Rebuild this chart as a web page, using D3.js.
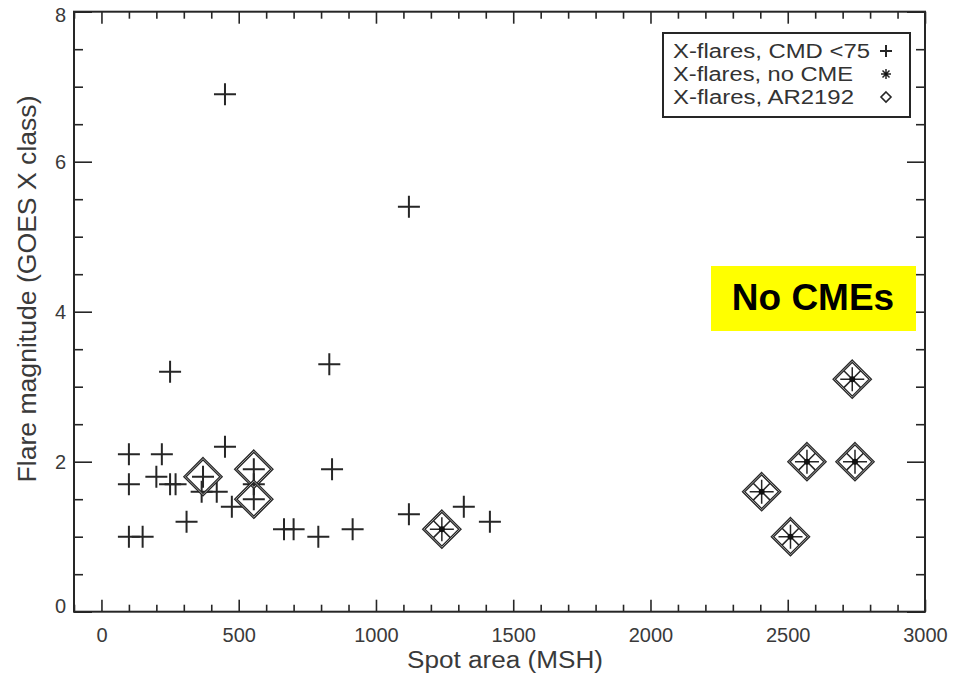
<!DOCTYPE html>
<html>
<head>
<meta charset="utf-8">
<script src="https://cdn.jsdelivr.net/npm/d3@7"></script>
<style>
  body { margin: 0; background: #fff; }
  text { font-family: "Liberation Sans", Arial, Helvetica, sans-serif; }
</style>
</head>
<body>
<script>
(function (d3) {
    'use strict';

    // X-flares with CMD < 75 (plus)
    var cmdX = [450, 1120, 250, 830, 840, 450, 100, 220, 100, 200, 250, 270, 370, 365, 420, 475,
                555, 555, 555, 310, 100, 150, 665, 700, 790, 915, 1120, 1320, 1415];
    var cmdY = [6.9, 5.4, 3.2, 3.3, 1.9, 2.2, 2.1, 2.1, 1.7, 1.8, 1.7, 1.7, 1.8, 1.6, 1.6, 1.4,
                1.9, 1.7, 1.5, 1.2, 1.0, 1.0, 1.1, 1.1, 1.0, 1.1, 1.3, 1.4, 1.2];

    // X-flares without CME (asterisk)
    var noCmeX = [1240, 2405, 2510, 2570, 2745, 2735];
    var noCmeY = [1.1, 1.6, 1.0, 2.0, 2.0, 3.1];

    // X-flares from AR2192 (diamond)
    var arX = [370, 555, 555, 1240, 2405, 2510, 2570, 2745, 2735];
    var arY = [1.8, 1.9, 1.5, 1.1, 1.6, 1.0, 2.0, 2.0, 3.1];

    var xMajor = [0, 500, 1000, 1500, 2000, 2500, 3000];
    var yMajor = [0, 2, 4, 6, 8];
    var legendLabels = ["X-flares, CMD <75", "X-flares, no CME", "X-flares, AR2192"];

    const W = 965, H = 673;
    const frame = { left: 74, right: 925, top: 11.7, bottom: 611.7 };
    const ink = "#262626";

    var x = d3.scaleLinear().domain([-100, 3000]).range([frame.left, frame.right]);
    var y = d3.scaleLinear().domain([0, 8]).range([frame.bottom, frame.top]);

    var svg = d3.select("body").append("svg")
        .attr("width", W)
        .attr("height", H);

    var xMinor = d3.range(-100, 3001, 100).filter(function (v) { return v % 500 !== 0; });
    var yMinor = d3.range(0, 8.01, 0.5).filter(function (v) { return v % 2 !== 0; });

    function styleAxis(g) {
        g.select(".domain").remove();
        g.selectAll(".tick line").attr("stroke", ink).attr("stroke-width", 1.6);
        g.selectAll(".tick text").attr("fill", "#3a3a3a").attr("font-size", 20);
    }

    // bottom / top x axes, ticks pointing inward
    svg.append("g").attr("transform", "translate(0," + frame.bottom + ")")
        .call(d3.axisBottom(x).tickValues(xMajor).tickSize(-12).tickPadding(16).tickFormat(d3.format("d")))
        .call(styleAxis);
    svg.append("g").attr("transform", "translate(0," + frame.bottom + ")")
        .call(d3.axisBottom(x).tickValues(xMinor).tickSize(-7).tickFormat(""))
        .call(styleAxis);
    svg.append("g").attr("transform", "translate(0," + frame.top + ")")
        .call(d3.axisTop(x).tickValues(xMajor).tickSize(-12).tickFormat(""))
        .call(styleAxis);
    svg.append("g").attr("transform", "translate(0," + frame.top + ")")
        .call(d3.axisTop(x).tickValues(xMinor).tickSize(-7).tickFormat(""))
        .call(styleAxis);

    // left / right y axes
    svg.append("g").attr("transform", "translate(" + frame.left + ",0)")
        .call(d3.axisLeft(y).tickValues(yMajor).tickSize(-18).tickPadding(8).tickFormat(d3.format("d")))
        .call(styleAxis)
        .selectAll(".tick text")
        .attr("dy", function (d) { return d === 0 ? "0.05em" : (d === 8 ? "0.5em" : "0.32em"); });
    svg.append("g").attr("transform", "translate(" + frame.left + ",0)")
        .call(d3.axisLeft(y).tickValues(yMinor).tickSize(-9).tickFormat(""))
        .call(styleAxis);
    svg.append("g").attr("transform", "translate(" + frame.right + ",0)")
        .call(d3.axisRight(y).tickValues(yMajor).tickSize(-18).tickFormat(""))
        .call(styleAxis);
    svg.append("g").attr("transform", "translate(" + frame.right + ",0)")
        .call(d3.axisRight(y).tickValues(yMinor).tickSize(-9).tickFormat(""))
        .call(styleAxis);

    // plot frame
    svg.append("rect")
        .attr("x", frame.left)
        .attr("y", frame.top)
        .attr("width", frame.right - frame.left)
        .attr("height", frame.bottom - frame.top)
        .attr("fill", "none")
        .attr("stroke", ink)
        .attr("stroke-width", 2);

    // axis titles
    svg.append("text")
        .attr("x", 505)
        .attr("y", 668)
        .attr("text-anchor", "middle")
        .attr("font-size", 23)
        .attr("fill", "#3a3a3a")
        .attr("textLength", 196)
        .attr("lengthAdjust", "spacingAndGlyphs")
        .text("Spot area (MSH)");

    svg.append("text")
        .attr("transform", "translate(36,289) rotate(-90)")
        .attr("text-anchor", "middle")
        .attr("font-size", 25)
        .attr("fill", "#3a3a3a")
        .attr("textLength", 387)
        .attr("lengthAdjust", "spacingAndGlyphs")
        .text("Flare magnitude (GOES X class)");

    // marker drawers
    function plus(g, px, py, r) {
        g.append("path")
            .attr("d", "M" + (px - r) + "," + py + "H" + (px + r) + "M" + px + "," + (py - r) + "V" + (py + r))
            .attr("stroke", ink).attr("stroke-width", 2).attr("fill", "none");
    }
    function asterisk(g, px, py, r) {
        var q = r * 0.7;
        g.append("path")
            .attr("d", "M" + (px - r) + "," + py + "H" + (px + r) + "M" + px + "," + (py - r) + "V" + (py + r) +
                "M" + (px - q) + "," + (py - q) + "L" + (px + q) + "," + (py + q) +
                "M" + (px - q) + "," + (py + q) + "L" + (px + q) + "," + (py - q))
            .attr("stroke", ink).attr("stroke-width", 1.5).attr("fill", "none");
        g.append("circle").attr("cx", px).attr("cy", py).attr("r", r * 0.25).attr("fill", "#111");
    }
    function diamond(g, px, py, r, w) {
        var d = "M" + px + "," + (py - r) + "L" + (px + r) + "," + py + "L" + px + "," + (py + r) + "L" + (px - r) + "," + py + "Z";
        g.append("path").attr("d", d).attr("stroke", ink).attr("stroke-width", w).attr("fill", "none");
        if (w > 2) {
            g.append("path").attr("d", d).attr("stroke", "#bbb").attr("stroke-width", 0.8).attr("fill", "none");
        }
    }

    var marks = svg.append("g");
    cmdX.forEach(function (v, i) { plus(marks, x(v), y(cmdY[i]), 11); });
    noCmeX.forEach(function (v, i) { asterisk(marks, x(v), y(noCmeY[i]), 12); });
    arX.forEach(function (v, i) { diamond(marks, x(v), y(arY[i]), 18, 3); });

    // legend
    var legend = svg.append("g");
    legend.append("rect")
        .attr("x", 663).attr("y", 33)
        .attr("width", 247).attr("height", 84)
        .attr("fill", "#fff")
        .attr("stroke", ink)
        .attr("stroke-width", 2);
    var legendWidths = [197, 180, 181];
    legendLabels.forEach(function (label, i) {
        var cy = 51 + i * 23;
        legend.append("text")
            .attr("x", 673)
            .attr("y", cy + 7)
            .attr("font-size", 20)
            .attr("fill", "#333")
            .attr("textLength", legendWidths[i])
            .attr("lengthAdjust", "spacingAndGlyphs")
            .text(label);
    });
    plus(legend, 886, 51, 6);
    asterisk(legend, 886, 74, 5);
    diamond(legend, 886, 97, 5, 1.6);

    // annotation
    svg.append("rect")
        .attr("x", 711).attr("y", 266)
        .attr("width", 205).attr("height", 65)
        .attr("fill", "#ffff00");
    svg.append("text")
        .attr("x", 813)
        .attr("y", 310)
        .attr("text-anchor", "middle")
        .attr("font-size", 37)
        .attr("font-weight", "bold")
        .attr("fill", "#000")
        .text("No CMEs");

})(d3);
</script>
</body>
</html>
